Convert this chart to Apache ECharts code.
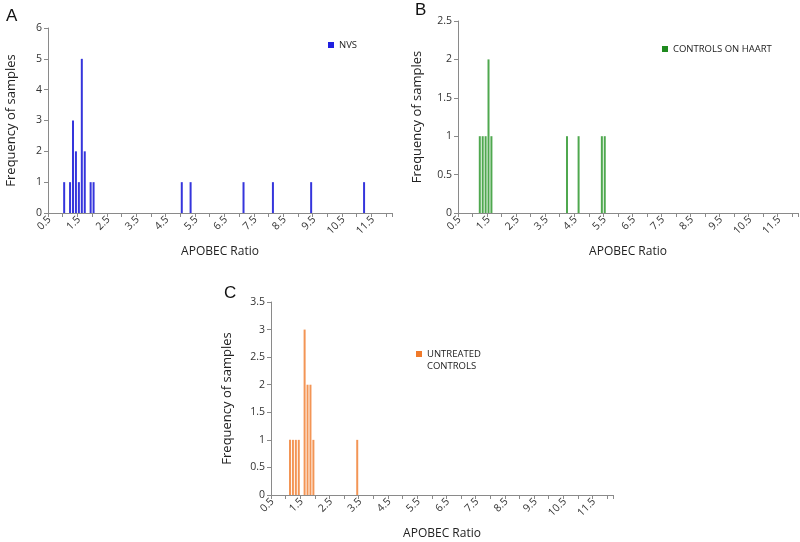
<!DOCTYPE html>
<html>
<head>
<meta charset="utf-8">
<script src="https://cdn.jsdelivr.net/npm/echarts@6/dist/echarts.min.js"></script>
<style>
html,body{margin:0;padding:0;background:#fff;}
#c{width:800px;height:542px;}
</style>
</head>
<body>
<div id="c"></div>
<script>
// Bins of the APOBEC ratio (category axis), 0.5 .. 12.1 in steps of 0.1
const binStart = 0.5;
const binStep = 0.1;
const binCount = 117;
const categories = [];
for (let i = 0; i < binCount; i++) categories.push((binStart + i * binStep).toFixed(1));

// Panel A: NVS
const nvsRatios = [1.0, 1.2, 1.3, 1.4, 1.5, 1.6, 1.7, 1.9, 2.0, 5.0, 5.3, 7.1, 8.1, 9.4, 11.2];
const nvsCounts = [1, 1, 3, 2, 1, 5, 2, 1, 1, 1, 1, 1, 1, 1, 1];
// Panel B: Controls on HAART
const haartRatios = [1.2, 1.3, 1.4, 1.5, 1.6, 4.2, 4.6, 5.4, 5.5];
const haartCounts = [1, 1, 1, 2, 1, 1, 1, 1, 1];
// Panel C: Untreated controls
const untreatedRatios = [1.1, 1.2, 1.3, 1.4, 1.6, 1.7, 1.8, 1.9, 3.4];
const untreatedCounts = [1, 1, 1, 1, 3, 2, 2, 1, 1];

function toSeries(ratios, counts) {
  const d = categories.map(() => 0);
  ratios.forEach((r, k) => {
    const idx = categories.indexOf(r.toFixed(1));
    if (idx >= 0) d[idx] = counts[k];
  });
  return d;
}

const FONT = 'Open Sans';
const axisColor = '#8a8a8a';
const labelColor = '#333';

function xAxis(gi) {
  return {
    type: 'category', gridIndex: gi, data: categories,
    boundaryGap: true,
    name: 'APOBEC Ratio', nameLocation: 'middle', nameGap: 33,
    nameTextStyle: {fontFamily: FONT, fontSize: 12, color: '#222'},
    axisLine: {lineStyle: {color: axisColor, width: 1}},
    axisTick: {show: true, interval: 4, length: 4, lineStyle: {color: axisColor}},
    axisLabel: {interval: 9, rotate: 45, margin: 5, fontFamily: FONT, fontSize: 10.5, color: labelColor},
    splitLine: {show: false}
  };
}
function yAxis(gi, max, interval, gap) {
  return {
    type: 'value', gridIndex: gi, min: 0, max: max, interval: interval,
    name: 'Frequency of samples', nameLocation: 'middle', nameGap: gap,
    nameTextStyle: {fontFamily: FONT, fontSize: 13, color: '#222'},
    axisLine: {show: true, lineStyle: {color: axisColor, width: 1}},
    axisTick: {show: true, length: 4, lineStyle: {color: axisColor}},
    axisLabel: {margin: 6, fontFamily: FONT, fontSize: 10.5, color: labelColor},
    splitLine: {show: false}
  };
}

const chart = echarts.init(document.getElementById('c'), null, {renderer: 'canvas'});
chart.setOption({
  animation: false,
  backgroundColor: '#fff',
  title: [
    {text: 'A', left: 1, top: 3, textStyle: {fontFamily: 'Liberation Sans', fontSize: 17, fontWeight: 'normal', color: '#111'}},
    {text: 'B', left: 410, top: -3, textStyle: {fontFamily: 'Liberation Sans', fontSize: 17, fontWeight: 'normal', color: '#111'}},
    {text: 'C', left: 219, top: 280, textStyle: {fontFamily: 'Liberation Sans', fontSize: 17, fontWeight: 'normal', color: '#111'}}
  ],
  legend: [
    {left: 323, top: 35, itemWidth: 6, itemHeight: 6, icon: 'rect',
     textStyle: {fontFamily: FONT, fontSize: 9.5, color: '#222'},
     data: [{name: 'NVS', itemStyle: {color: '#2020e0'}}]},
    {left: 657, top: 39, itemWidth: 6, itemHeight: 6, icon: 'rect',
     textStyle: {fontFamily: FONT, fontSize: 9.5, color: '#222'},
     data: [{name: 'CONTROLS ON HAART', itemStyle: {color: '#1f8a1f'}}]},
    {left: 411, top: 331, itemWidth: 6, itemHeight: 6, icon: 'rect',
     formatter: n => ' \n' + n.replace(' ', '\n'),
     textStyle: {fontFamily: FONT, fontSize: 9.5, color: '#222', lineHeight: 12},
     data: [{name: 'UNTREATED CONTROLS', itemStyle: {color: '#f07a2a'}}]}
  ],
  grid: [
    {left: 48, top: 28, width: 344, height: 185},
    {left: 458, top: 21, width: 340, height: 192},
    {left: 271, top: 302, width: 342, height: 193}
  ],
  xAxis: [xAxis(0), xAxis(1), xAxis(2)],
  yAxis: [yAxis(0, 6, 1, 30), yAxis(1, 2.5, 0.5, 34), yAxis(2, 3.5, 0.5, 37)],
  series: [
    {name: 'NVS', type: 'bar', xAxisIndex: 0, yAxisIndex: 0, barWidth: 2,
     itemStyle: {color: '#3535dc'}, data: toSeries(nvsRatios, nvsCounts)},
    {name: 'CONTROLS ON HAART', type: 'bar', xAxisIndex: 1, yAxisIndex: 1, barWidth: 2,
     itemStyle: {color: '#4fa84f'}, data: toSeries(haartRatios, haartCounts)},
    {name: 'UNTREATED CONTROLS', type: 'bar', xAxisIndex: 2, yAxisIndex: 2, barWidth: 2,
     itemStyle: {color: '#f39555'}, data: toSeries(untreatedRatios, untreatedCounts)}
  ]
});
</script>
</body>
</html>
